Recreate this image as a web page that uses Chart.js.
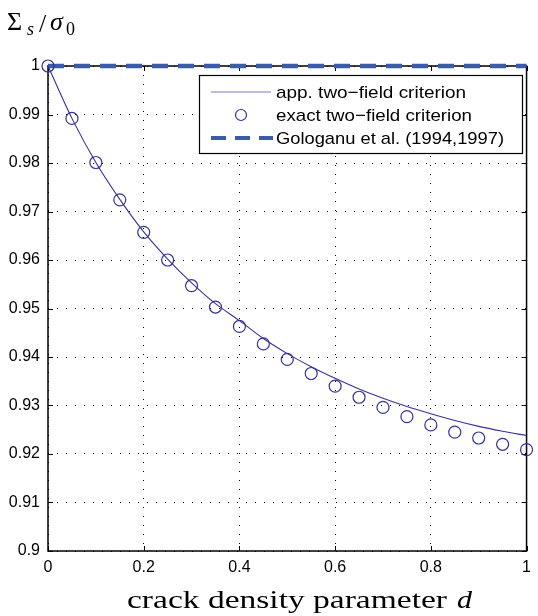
<!DOCTYPE html>
<html>
<head>
<meta charset="utf-8">
<script src="https://cdn.jsdelivr.net/npm/chart.js@4"></script>
<style>
  html, body { margin: 0; padding: 0; background: #fff; }
  #wrap { width: 538px; height: 616px; }
</style>
</head>
<body>
<div id="wrap"><canvas id="crack-chart" width="538" height="616"></canvas></div>
<script>
// crack density parameter d
var dValues = [0, 0.05, 0.1, 0.15, 0.2, 0.25, 0.3, 0.35, 0.4, 0.45, 0.5,
               0.55, 0.6, 0.65, 0.7, 0.75, 0.8, 0.85, 0.9, 0.95, 1];
// exact two-field criterion (circles)
var exactValues = [1.0, 0.9892, 0.9801, 0.9724, 0.9657, 0.9600, 0.9547, 0.9503, 0.9463, 0.9427, 0.9395,
                   0.9366, 0.9340, 0.9317, 0.9296, 0.9277, 0.9260, 0.9245, 0.9233, 0.9220, 0.9209];
// approximate two-field criterion (solid line)
var approxValues = [1.0, 0.9892, 0.9801, 0.9725, 0.9658, 0.9602, 0.9553, 0.9510, 0.9475, 0.9438, 0.9407,
                    0.9380, 0.9356, 0.9334, 0.9315, 0.9298, 0.9283, 0.9269, 0.9257, 0.9247, 0.9238];
// Gologanu et al. (dashed)
var gologanuD = [0, 1];
var gologanuValues = [1, 1];

var yTicks = [0.9, 0.91, 0.92, 0.93, 0.94, 0.95, 0.96, 0.97, 0.98, 0.99, 1];
var xTicks = [0, 0.2, 0.4, 0.6, 0.8, 1];

var lineColor = '#35329a';
var dashColor = '#3b5ca8';
var tickFont = '"Liberation Sans", Arial, sans-serif';
var serif = '"Liberation Serif", "DejaVu Serif", serif';

function pts(xs, ys) {
  return xs.map(function (x, i) { return { x: x, y: ys[i] }; });
}

// widen text horizontally so it fills a given width
function fitText(ctx, text, x, y, width) {
  var w = ctx.measureText(text).width;
  ctx.save();
  ctx.translate(x, y);
  ctx.scale(width / w, 1);
  ctx.fillText(text, 0, 0);
  ctx.restore();
}

var legendItems = [
  { label: 'app. two\u2212field criterion', kind: 'line', width: 190 },
  { label: 'exact two\u2212field criterion', kind: 'circle', width: 196 },
  { label: 'Gologanu et al. (1994,1997)', kind: 'dash', width: 228 }
];

var decorPlugin = {
  id: 'decor',
  beforeDatasetsDraw: function (chart) {
    var ctx = chart.ctx;
    var a = chart.chartArea;
    var xs = chart.scales.x, ys = chart.scales.y;
    ctx.save();
    // inward tick marks
    ctx.strokeStyle = '#000';
    ctx.lineWidth = 1;
    ctx.beginPath();
    yTicks.forEach(function (v) {
      var y = Math.round(ys.getPixelForValue(v)) + 0.5;
      ctx.moveTo(a.left, y); ctx.lineTo(a.left + 5, y);
      ctx.moveTo(a.right, y); ctx.lineTo(a.right - 5, y);
    });
    xTicks.forEach(function (v) {
      var x = Math.round(xs.getPixelForValue(v)) + 0.5;
      ctx.moveTo(x, a.bottom); ctx.lineTo(x, a.bottom - 5);
      ctx.moveTo(x, a.top); ctx.lineTo(x, a.top + 5);
    });
    ctx.stroke();
    // axes box
    ctx.lineWidth = 1.5;
    ctx.strokeRect(a.left, a.top, a.right - a.left, a.bottom - a.top);
    ctx.restore();
  },
  afterDraw: function (chart) {
    var ctx = chart.ctx;
    var ds = chart.data.datasets;
    ctx.save();
    // legend box
    var bx = 199, by = 75, bw = 323, bh = 78;
    ctx.fillStyle = '#fff';
    ctx.fillRect(bx, by, bw, bh);
    ctx.strokeStyle = '#000';
    ctx.lineWidth = 1.2;
    ctx.strokeRect(bx + 0.5, by + 0.5, bw, bh);
    ctx.font = '17px ' + tickFont;
    ctx.textBaseline = 'middle';
    ctx.fillStyle = '#000';
    legendItems.forEach(function (item, i) {
      var y = 92 + i * 23;
      ctx.save();
      if (item.kind === 'line') {
        ctx.strokeStyle = '#7c78c8';
        ctx.lineWidth = 1.2;
        ctx.beginPath(); ctx.moveTo(211, y); ctx.lineTo(271, y); ctx.stroke();
      } else if (item.kind === 'circle') {
        ctx.strokeStyle = ds[1].borderColor;
        ctx.lineWidth = 1.2;
        ctx.beginPath(); ctx.arc(241, y, 5.5, 0, Math.PI * 2); ctx.stroke();
      } else {
        ctx.strokeStyle = ds[2].borderColor;
        ctx.lineWidth = 4;
        ctx.setLineDash([15, 9]);
        ctx.beginPath(); ctx.moveTo(211, y); ctx.lineTo(273, y); ctx.stroke();
      }
      ctx.restore();
      fitText(ctx, item.label, 276, y + 1, item.width);
    });

    // y title: Sigma_s / sigma_0
    ctx.fillStyle = '#000';
    ctx.textBaseline = 'alphabetic';
    ctx.textAlign = 'left';
    var base = 30;
    ctx.font = '26px ' + serif;
    ctx.fillText('\u03A3', 7, base);
    ctx.font = 'italic 18px ' + serif;
    ctx.fillText('s', 27, base + 5);
    ctx.font = '26px ' + serif;
    ctx.fillText('/', 39, base + 2);
    ctx.font = 'italic 26px ' + serif;
    ctx.fillText('\u03C3', 50, base);
    ctx.font = '18px ' + serif;
    ctx.fillText('0', 66, base + 5);

    // x title
    var t1 = 'crack density parameter';
    ctx.font = '26px ' + serif;
    fitText(ctx, t1, 127, 608, 320);
    ctx.font = 'italic 26px ' + serif;
    fitText(ctx, 'd', 457, 608, 15);
    ctx.restore();
  }
};

window.addEventListener('load', function () {
  var ctx = document.getElementById('crack-chart').getContext('2d');
  var chart = new Chart(ctx, {
    type: 'scatter',
    data: {
      datasets: [
        {
          label: 'app. two-field criterion',
          type: 'line',
          data: pts(dValues, approxValues),
          borderColor: lineColor,
          borderWidth: 1.1,
          pointRadius: 0,
          cubicInterpolationMode: 'monotone',
          fill: false,
          clip: false
        },
        {
          label: 'exact two-field criterion',
          data: pts(dValues, exactValues),
          borderColor: lineColor,
          backgroundColor: 'rgba(0,0,0,0)',
          borderWidth: 1.2,
          pointRadius: 6,
          pointHoverRadius: 6,
          clip: false
        },
        {
          label: 'Gologanu et al. (1994,1997)',
          type: 'line',
          data: pts(gologanuD, gologanuValues),
          borderColor: dashColor,
          borderWidth: 4.5,
          borderDash: [16, 10],
          pointRadius: 0,
          fill: false,
          clip: false
        }
      ]
    },
    options: {
      responsive: false,
      animation: false,
      events: [],
      layout: { padding: { left: 0, top: 66, right: 7, bottom: 0 } },
      plugins: {
        legend: { display: false },
        tooltip: { enabled: false }
      },
      scales: {
        x: {
          type: 'linear',
          min: 0,
          max: 1,
          afterFit: function (s) { s.height = 65; },
          afterBuildTicks: function (s) { s.ticks = xTicks.map(function (v) { return { value: v }; }); },
          border: { display: false, dash: [1, 8] },
          grid: { color: '#000', lineWidth: 1, drawTicks: false },
          ticks: {
            color: '#000',
            padding: 7,
            font: { family: tickFont, size: 16 },
            callback: function (v) { return String(parseFloat(v.toFixed(1))); }
          }
        },
        y: {
          min: 0.9,
          max: 1,
          afterFit: function (s) { s.width = 48; },
          afterBuildTicks: function (s) { s.ticks = yTicks.map(function (v) { return { value: v }; }); },
          border: { display: false, dash: [1, 8] },
          grid: { color: '#000', lineWidth: 1, drawTicks: false },
          ticks: {
            color: '#000',
            padding: 8,
            font: { family: tickFont, size: 16 },
            callback: function (v) { return String(parseFloat(v.toFixed(2))); }
          }
        }
      }
    },
    plugins: [decorPlugin]
  });
});
</script>
</body>
</html>
